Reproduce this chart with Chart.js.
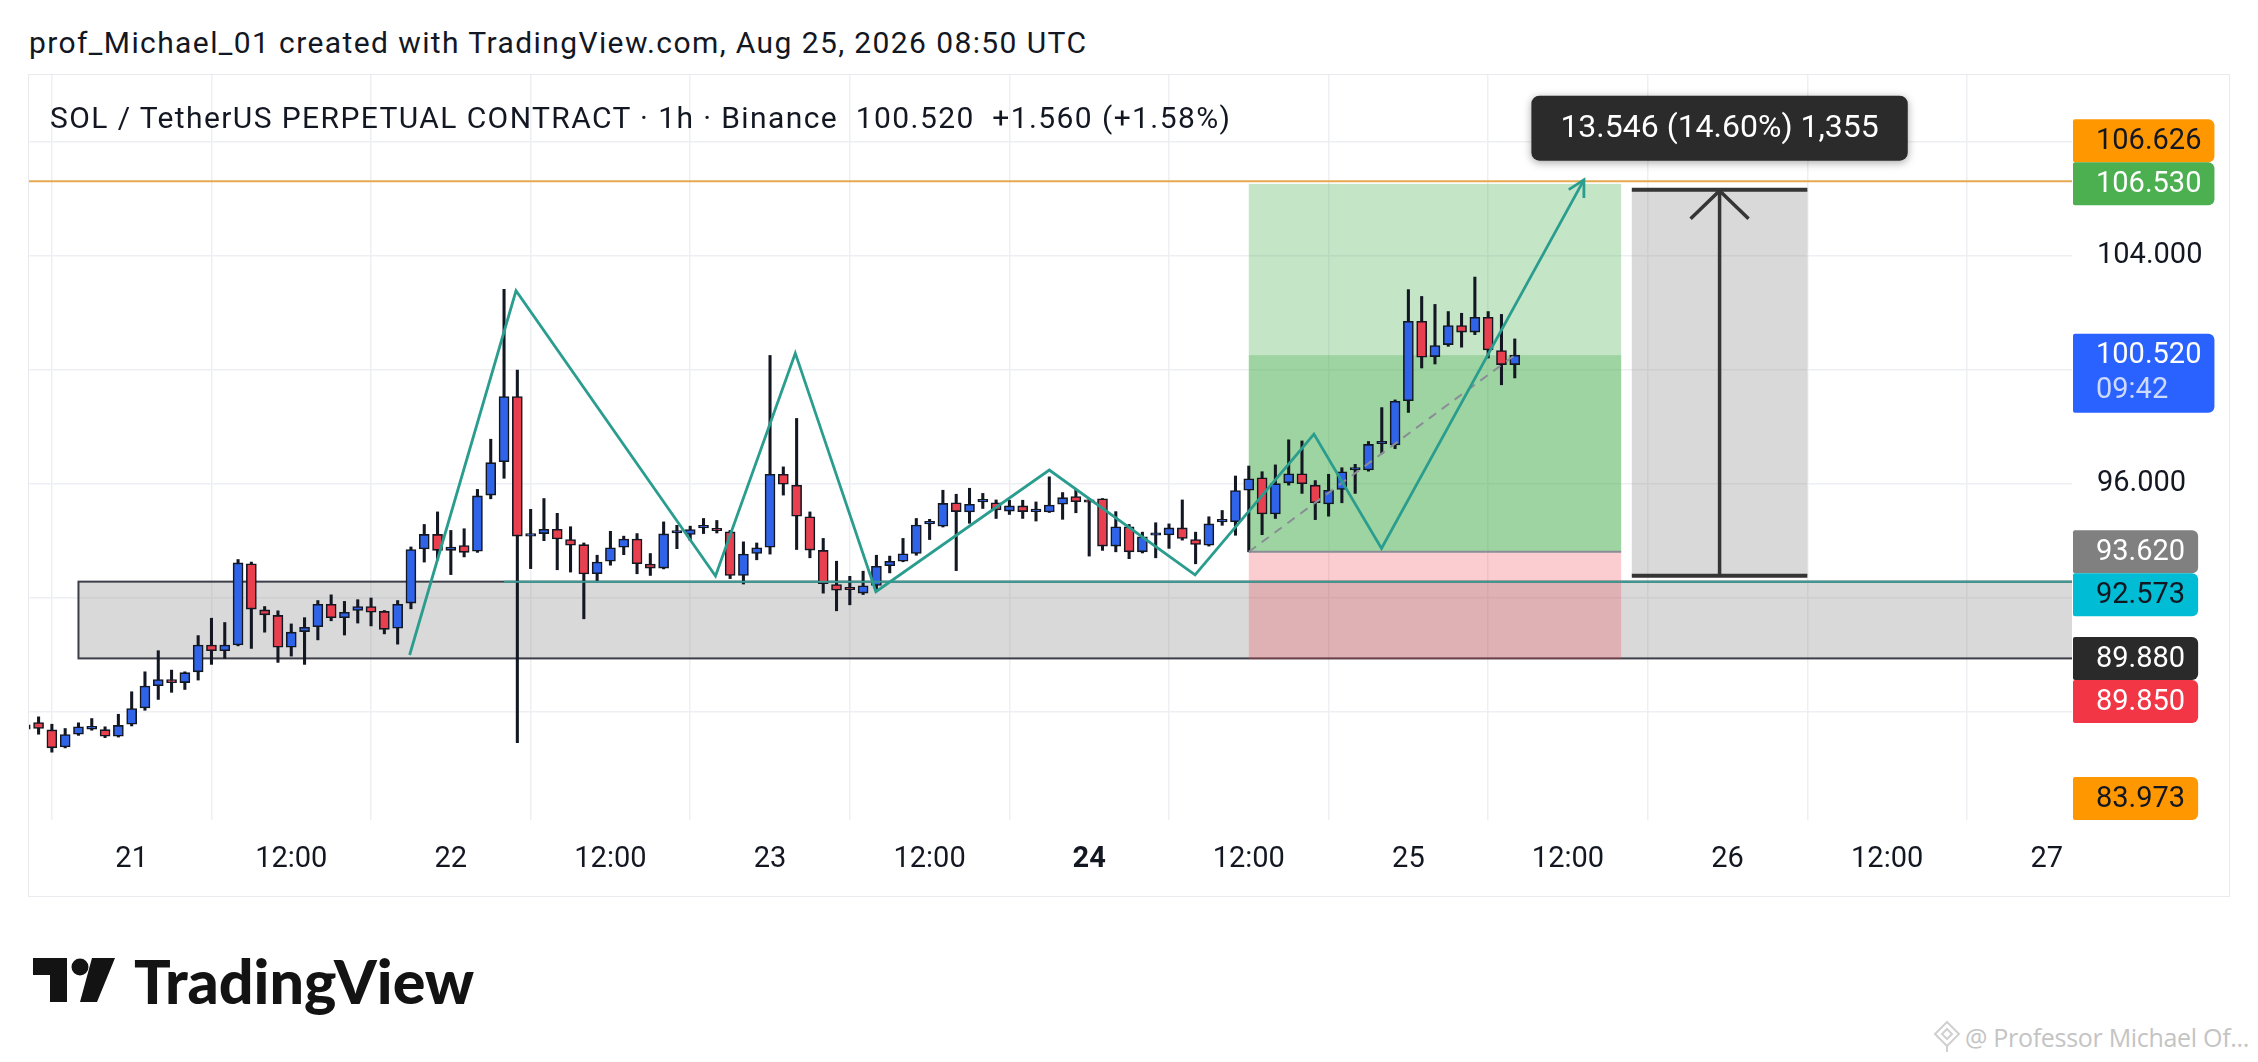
<!DOCTYPE html>
<html><head><meta charset="utf-8">
<script src="https://cdn.jsdelivr.net/npm/chart.js@4.4.1/dist/chart.umd.min.js"></script>
<style>
html,body{margin:0;padding:0;background:#fff;width:2258px;height:1062px;overflow:hidden;font-family:Roboto,sans-serif;}
#header{position:absolute;left:29px;top:26px;font-size:30px;letter-spacing:1.4px;color:#131722;white-space:nowrap;line-height:34px;}
#frame{position:absolute;left:28px;top:74px;width:2200px;height:821px;border:1px solid #e8eaee;}
#chartWrap{position:absolute;left:29px;top:75px;width:2200px;height:821px;}
#title{position:absolute;left:50px;top:101px;font-size:30px;letter-spacing:1.4px;color:#131722;white-space:nowrap;line-height:34px;z-index:2;}
#logo{position:absolute;left:33px;top:950px;height:60px;display:flex;align-items:center;}
#logo span{font-family:Lato,sans-serif;font-weight:900;font-size:61px;color:#131313;margin-left:17px;letter-spacing:0px;}
#wm{position:absolute;left:1932px;top:1020px;display:flex;align-items:center;color:#c4c4c4;font-family:"Open Sans",sans-serif;font-size:25px;letter-spacing:-0.3px;white-space:nowrap;}
</style></head>
<body>
<div id="header">prof_Michael_01 created with TradingView.com, Aug 25, 2026 08:50 UTC</div>
<div id="frame"></div>
<div id="chartWrap"><canvas id="c" width="2200" height="821"></canvas></div>
<div id="title">SOL / TetherUS PERPETUAL CONTRACT · 1h · Binance&nbsp;&nbsp;100.520&nbsp;&nbsp;+1.560 (+1.58%)</div>
<div id="logo"><svg width="84" height="44" viewBox="0 0 84 44"><path d="M0 0H34V44H17V17H0Z" fill="#131313"/><circle cx="47" cy="9" r="8.5" fill="#131313"/><path d="M59 0H82L64 44H47Z" fill="#131313"/></svg><span>TradingView</span></div>
<div id="wm"><svg width="30" height="34" viewBox="0 0 30 34" style="margin-right:3px"><path d="M15 2L27 14L15 26L3 14Z" fill="none" stroke="#d0d0d0" stroke-width="2"/><path d="M15 9L20 14L15 19L10 14Z" fill="none" stroke="#d0d0d0" stroke-width="2"/><path d="M15 26L15 32" stroke="#d0d0d0" stroke-width="2"/></svg>@ Professor Michael Of...</div>
<script>
// ---- Candle data: 1h candles, first candle = 2026-08-20 16:00 UTC (hour -8 relative to Aug 21 00:00)
const startHour = -8;
const opens  = [87.55,87.63,87.37,86.77,87.22,87.40,87.38,87.15,87.57,88.14,88.92,89.14,89.03,89.41,90.35,90.15,90.35,93.20,91.58,91.39,90.27,90.82,90.99,91.78,91.31,91.56,91.70,91.53,90.94,91.82,93.72,94.23,93.67,93.84,93.64,95.61,96.78,99.07,94.17,94.26,94.41,94.05,93.87,92.85,93.29,93.78,94.07,93.19,93.05,94.28,94.23,94.46,94.44,94.32,92.79,93.56,93.78,96.34,95.96,94.85,93.67,92.47,92.30,92.17,92.44,93.13,93.29,93.56,94.60,94.52,95.34,95.02,95.37,95.34,95.05,95.23,95.03,95.02,95.29,95.56,95.40,95.48,93.82,94.50,93.62,94.20,94.21,94.46,94.05,93.85,94.67,94.67,95.78,96.22,94.95,96.04,96.36,95.96,95.30,95.81,96.49,96.49,97.41,97.37,98.92,101.71,100.47,100.89,101.56,101.33,101.85,100.68,100.19];
const highs  = [87.65,87.83,87.57,87.42,87.62,87.77,87.48,87.92,88.71,89.41,90.15,89.47,89.41,90.68,91.29,91.14,93.35,93.26,91.70,91.55,91.09,91.31,91.91,92.11,91.88,91.94,92.00,91.56,91.91,93.79,94.58,95.02,94.37,94.43,95.81,97.57,102.83,100.00,95.11,95.49,94.97,94.50,93.93,93.50,94.34,94.17,94.26,93.56,94.67,94.55,94.52,94.79,94.72,94.37,93.97,93.93,100.51,96.60,98.30,95.02,94.09,93.29,92.76,92.94,93.50,93.47,94.09,94.79,94.76,95.78,95.64,95.85,95.67,95.44,95.43,95.43,95.37,96.25,95.70,95.81,95.49,95.49,95.03,94.58,94.31,94.64,94.60,95.44,94.31,94.85,95.07,96.28,96.63,96.43,96.67,97.55,97.51,96.12,96.34,96.57,96.69,97.49,98.68,98.95,102.82,102.58,102.30,102.05,101.99,103.26,102.05,101.95,101.09];
const lows   = [87.25,87.22,86.59,86.74,87.18,87.36,87.10,87.12,87.51,88.06,88.44,88.69,88.79,89.12,89.67,89.88,90.32,90.23,90.80,89.74,89.96,89.67,90.53,91.20,90.70,91.12,91.02,90.74,90.38,91.62,93.26,93.33,92.82,93.44,93.60,95.48,96.20,86.92,93.03,94.01,92.99,92.91,91.27,92.58,93.15,93.52,92.85,92.79,93.02,93.73,94.01,94.26,94.28,92.68,92.49,93.34,93.54,95.61,93.70,93.41,92.17,91.55,91.76,92.12,92.29,92.88,93.27,93.50,94.05,94.49,92.96,94.62,95.14,94.79,94.93,94.79,94.70,95.00,94.76,94.99,93.47,93.67,93.62,93.38,93.58,93.41,93.74,94.03,93.20,93.82,94.55,94.20,93.62,94.22,94.79,95.96,95.67,94.75,94.87,95.34,95.67,96.45,97.06,97.24,98.51,100.07,100.21,100.83,100.80,101.24,100.42,99.48,99.72];
const closes = [87.40,87.42,86.74,87.21,87.48,87.50,87.15,87.53,88.12,88.91,89.14,89.03,89.38,90.35,90.15,90.35,93.23,91.61,91.41,90.27,90.80,90.97,91.78,91.31,91.50,91.70,91.50,90.90,91.78,93.70,94.23,93.67,93.79,93.60,95.58,96.75,99.07,94.17,94.22,94.41,94.07,93.85,92.84,93.26,93.76,94.07,93.20,93.05,94.25,94.30,94.40,94.47,94.36,92.79,93.54,93.76,96.34,95.99,94.87,93.68,92.50,92.27,92.29,92.43,93.11,93.29,93.55,94.56,94.61,95.32,95.03,95.29,95.38,95.09,95.23,95.03,95.04,95.26,95.52,95.38,95.36,93.82,94.50,93.62,94.15,94.21,94.46,94.09,93.88,94.60,94.68,95.77,96.18,94.95,96.01,96.36,96.01,95.34,95.78,96.43,96.50,97.39,97.42,98.90,101.71,100.45,100.86,101.56,101.33,101.85,100.70,100.19,100.52];

// ---- Axis ticks (hours relative to Aug 21 00:00 UTC)
const timeTicks = [0,12,24,36,48,60,72,84,96,108,120,132,144];
const timeTickLabels = ['21','12:00','22','12:00','23','12:00','24','12:00','25','12:00','26','12:00','27'];
const boldTimeTick = 72;
const priceTicks = [88,92,96,100,104,108];
const xRange = [-7.72, 145.9];
const yRange = [84.21, 110.35];

// ---- Drawings (time in hours, prices)
const zoneTime = [-4, 146];           // grey support rectangle
const zonePrices = [92.573, 89.88];
const supportRayStart = 28;           // teal horizontal ray
const supportRayPrice = 92.573;
const resistanceLinePrice = 106.626;  // orange horizontal line
const zigzagTimes  = [20.9, 28.9, 43.9, 49.9, 55.96, 69.0, 79.96, 88.9, 93.98, 109.2];
const zigzagPrices = [90.0, 102.78, 92.77, 100.59, 92.22, 96.49, 92.81, 97.75, 93.74, 106.67];
const positionTime = [84, 112];       // long position tool
const positionEntry = 93.62, positionTarget = 106.53, positionStop = 89.85, positionLast = 100.52, positionLastTime = 104;
const rangeTime = [112.8, 126];       // price range measure
const rangePrices = [92.78, 106.326];
const rangeLabel = '13.546 (14.60%) 1,355';

// ---- Price axis labels
const labelPrices = [106.626, 106.530, 100.520, 93.620, 92.573, 89.880, 89.850, 83.973];
const labelTexts  = ['106.626','106.530','100.520','93.620','92.573','89.880','89.850','83.973'];
const labelSub    = ['', '', '09:42', '', '', '', '', ''];
const labelBg     = ['#ff9800','#4caf50','#2962ff','#808080','#00bcd4','#2a2a2a','#f23645','#ff9800'];
const labelFg     = ['#131722','#ffffff','#ffffff','#ffffff','#131722','#ffffff','#ffffff','#131722'];
const labelFixed  = [false, true, true, true, false, true, false, true];

const UP = '#2f63e8', DOWN = '#e8404f', EDGE = '#131722';
const hours = opens.map((_, i) => startHour + i);

Chart.defaults.font.family = 'Roboto';
Chart.defaults.font.size = 29;
Chart.defaults.color = '#131722';

function px(chart, t) { return chart.scales.x.getPixelForValue(t); }
function py(chart, p) { return chart.scales.y.getPixelForValue(p); }

const drawingsPlugin = {
  id: 'drawings',
  beforeDatasetsDraw(chart) {
    const ctx = chart.ctx, a = chart.chartArea;
    ctx.save();
    ctx.beginPath(); ctx.rect(a.left, a.top, a.right - a.left, a.bottom - a.top); ctx.clip();
    // grey support zone
    const zx0 = px(chart, zoneTime[0]), zx1 = Math.min(px(chart, zoneTime[1]), a.right);
    const zy0 = py(chart, zonePrices[0]), zy1 = py(chart, zonePrices[1]);
    ctx.fillStyle = 'rgba(128,128,128,0.30)';
    ctx.fillRect(zx0, zy0, zx1 - zx0, zy1 - zy0);
    ctx.strokeStyle = '#3c3f48'; ctx.lineWidth = 2;
    ctx.strokeRect(zx0, zy0, zx1 - zx0 + 5, zy1 - zy0);
    // long position tool
    const p0 = px(chart, positionTime[0]), p1 = px(chart, positionTime[1]);
    const ye = py(chart, positionEntry), yt = py(chart, positionTarget), ys = py(chart, positionStop), yl = py(chart, positionLast);
    ctx.fillStyle = 'rgba(76,175,80,0.32)';
    ctx.fillRect(p0, yt, p1 - p0, ye - yt);
    ctx.fillStyle = 'rgba(76,175,80,0.32)';
    ctx.fillRect(p0, yl, p1 - p0, ye - yl);
    ctx.fillStyle = 'rgba(242,54,69,0.25)';
    ctx.fillRect(p0, ye, p1 - p0, ys - ye);
    ctx.strokeStyle = '#8a8d96'; ctx.lineWidth = 2;
    ctx.beginPath(); ctx.moveTo(p0, ye); ctx.lineTo(p1, ye); ctx.stroke();
    ctx.restore();
  },
  afterDatasetsDraw(chart) {
    const ctx = chart.ctx, a = chart.chartArea;
    ctx.save();
    ctx.beginPath(); ctx.rect(a.left, a.top, a.right - a.left, a.bottom - a.top); ctx.clip();
    // orange resistance line
    ctx.strokeStyle = '#e6a94f'; ctx.lineWidth = 2;
    const yr = py(chart, resistanceLinePrice);
    ctx.beginPath(); ctx.moveTo(a.left, yr); ctx.lineTo(a.right, yr); ctx.stroke();
    // teal support ray
    ctx.strokeStyle = '#3a9b94'; ctx.lineWidth = 2;
    const ysr = py(chart, supportRayPrice);
    ctx.beginPath(); ctx.moveTo(px(chart, supportRayStart), ysr); ctx.lineTo(a.right, ysr); ctx.stroke();
    // dashed entry -> last close
    ctx.strokeStyle = '#8a8d96'; ctx.lineWidth = 2; ctx.setLineDash([9, 7]);
    ctx.beginPath(); ctx.moveTo(px(chart, positionTime[0]), py(chart, positionEntry));
    ctx.lineTo(px(chart, positionLastTime), py(chart, positionLast)); ctx.stroke();
    ctx.setLineDash([]);
    // zigzag path
    ctx.strokeStyle = '#2a9d8f'; ctx.lineWidth = 2.8; ctx.lineJoin = 'miter';
    ctx.beginPath();
    zigzagTimes.forEach((t, i) => { const X = px(chart, t), Y = py(chart, zigzagPrices[i]); i ? ctx.lineTo(X, Y) : ctx.moveTo(X, Y); });
    ctx.stroke();
    const n = zigzagTimes.length;
    const ex = px(chart, zigzagTimes[n-1]), ey = py(chart, zigzagPrices[n-1]);
    const bx = px(chart, zigzagTimes[n-2]), by = py(chart, zigzagPrices[n-2]);
    const ang = Math.atan2(ey - by, ex - bx);
    ctx.beginPath();
    ctx.moveTo(ex - 18 * Math.cos(ang - 0.5), ey - 18 * Math.sin(ang - 0.5));
    ctx.lineTo(ex, ey);
    ctx.lineTo(ex - 18 * Math.cos(ang + 0.5), ey - 18 * Math.sin(ang + 0.5));
    ctx.stroke();
    // price range measure
    const r0 = px(chart, rangeTime[0]), r1 = px(chart, rangeTime[1]);
    const rb = py(chart, rangePrices[0]), rt = py(chart, rangePrices[1]);
    ctx.fillStyle = 'rgba(128,128,128,0.30)';
    ctx.fillRect(r0, rt, r1 - r0, rb - rt);
    ctx.strokeStyle = '#353535'; ctx.lineWidth = 4;
    ctx.beginPath(); ctx.moveTo(r0, rt); ctx.lineTo(r1, rt); ctx.moveTo(r0, rb); ctx.lineTo(r1, rb); ctx.stroke();
    const rc = (r0 + r1) / 2;
    ctx.lineWidth = 3.5;
    ctx.beginPath(); ctx.moveTo(rc, rb); ctx.lineTo(rc, rt + 2); ctx.stroke();
    ctx.beginPath(); ctx.moveTo(rc - 29, rt + 29); ctx.lineTo(rc, rt + 1); ctx.lineTo(rc + 29, rt + 29); ctx.stroke();
    ctx.restore();
  },
  afterDraw(chart) {
    const ctx = chart.ctx, a = chart.chartArea;
    // range tooltip box
    const r0 = px(chart, rangeTime[0]), r1 = px(chart, rangeTime[1]);
    const rt = py(chart, rangePrices[1]);
    ctx.save();
    ctx.font = '32px Roboto';
    const tw = ctx.measureText(rangeLabel).width;
    const bw = tw + 58, bh = 65, bx = (r0 + r1) / 2 - bw / 2, by = rt - 29 - bh;
    ctx.shadowColor = 'rgba(0,0,0,0.35)'; ctx.shadowBlur = 8; ctx.shadowOffsetY = 2;
    ctx.fillStyle = '#2b2b2b';
    ctx.beginPath(); ctx.roundRect(bx, by, bw, bh, 8); ctx.fill();
    ctx.shadowColor = 'transparent';
    ctx.fillStyle = '#ffffff'; ctx.textAlign = 'center'; ctx.textBaseline = 'middle';
    ctx.fillText(rangeLabel, bx + bw / 2, by + bh / 2 + 1);
    ctx.restore();
    // price axis labels
    ctx.save();
    ctx.font = '29px Roboto';
    const H = 43;
    const items = labelPrices.map((p, i) => {
      const h = labelSub[i] ? 79 : H;
      let c = py(chart, p);
      return { i, c, h, top: 0 };
    });
    const placeTop = it => {
      let top = it.c - H / 2;
      if (top < a.top) top = a.top;
      if (top + it.h > a.bottom) top = a.bottom - it.h;
      it.top = top;
    };
    items.forEach(it => { if (labelFixed[it.i]) placeTop(it); });
    items.forEach(it => {
      if (labelFixed[it.i]) return;
      placeTop(it);
      items.forEach(f => {
        if (!labelFixed[f.i]) return;
        if (it.top < f.top + f.h && it.top + it.h > f.top) {
          it.top = (it.c < f.c) ? f.top - it.h : f.top + f.h;
        }
      });
    });
    const x0 = a.right + 1, tx = a.right + 24;
    items.forEach(it => {
      const i = it.i;
      const w = ctx.measureText(labelTexts[i]).width + (tx - x0) + 13;
      ctx.fillStyle = labelBg[i];
      ctx.beginPath(); ctx.roundRect(x0, it.top, w, it.h, [2, 6, 6, 2]); ctx.fill();
      ctx.fillStyle = labelFg[i]; ctx.textAlign = 'left'; ctx.textBaseline = 'middle';
      ctx.fillText(labelTexts[i], tx, it.top + H / 2 + 1);
      if (labelSub[i]) {
        ctx.fillStyle = '#cdd9ff';
        ctx.fillText(labelSub[i], tx, it.top + H / 2 + 36);
      }
    });
    ctx.restore();
  }
};

new Chart(document.getElementById('c'), {
  type: 'bar',
  data: {
    datasets: [
      {
        label: 'wicks', order: 2, grouped: false,
        data: hours.map((h, i) => ({ x: h, y: [lows[i], highs[i]] })),
        backgroundColor: EDGE, borderWidth: 0, barThickness: 2.4, minBarLength: 2
      },
      {
        label: 'bodies', order: 1, grouped: false,
        data: hours.map((h, i) => ({ x: h, y: [opens[i], closes[i]] })),
        backgroundColor: hours.map((_, i) => closes[i] >= opens[i] ? UP : DOWN),
        borderColor: EDGE, borderWidth: 1.6, borderSkipped: false,
        barThickness: 10, minBarLength: 2.5
      }
    ]
  },
  options: {
    responsive: false, animation: false, devicePixelRatio: 1,
    layout: { padding: 0 },
    plugins: { legend: { display: false }, tooltip: { enabled: false } },
    events: [],
    scales: {
      x: {
        type: 'linear', min: xRange[0], max: xRange[1], offset: false,
        afterBuildTicks: s => { s.ticks = timeTicks.map(v => ({ value: v })); },
        afterFit: s => { s.height = 76; s.paddingLeft = 0; s.paddingRight = 0; },
        grid: { color: '#eeeff2', lineWidth: 1.5, drawTicks: false },
        border: { display: false },
        ticks: {
          autoSkip: false, maxRotation: 0, padding: 22, color: '#131722',
          font: c => (c.tick && c.tick.value === boldTimeTick) ? { size: 29, weight: 'bold' } : { size: 29 },
          callback: v => timeTickLabels[timeTicks.indexOf(v)]
        }
      },
      y: {
        type: 'linear', position: 'right', min: yRange[0], max: yRange[1],
        afterBuildTicks: s => { s.ticks = priceTicks.map(v => ({ value: v })); },
        afterFit: s => { s.width = 157; s.paddingTop = 0; s.paddingBottom = 0; },
        grid: { color: '#eeeff2', lineWidth: 1.5, drawTicks: false },
        border: { display: false },
        ticks: { padding: 25, color: '#131722', font: { size: 29 }, callback: v => v.toFixed(3) }
      }
    }
  },
  plugins: [drawingsPlugin]
});
</script>
</body></html>
